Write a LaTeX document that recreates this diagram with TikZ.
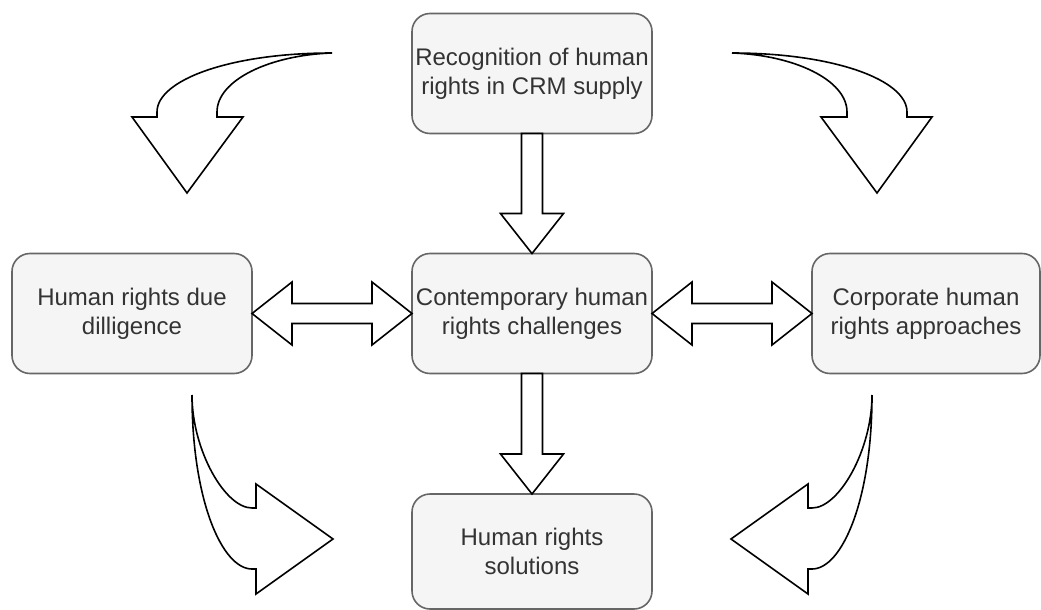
\documentclass[tikz,border=0pt]{standalone}
\usepackage{fontspec}
\setmainfont{Liberation Sans}
\usetikzlibrary{calc}

\definecolor{boxfill}{HTML}{F5F5F5}
\definecolor{boxline}{HTML}{666666}
\definecolor{labeltext}{HTML}{333333}

% straight block arrow pointing down, from the bottom of #1 to the top of #2
\newcommand\blockdown[2]{%
  \draw[blockarrow] ($(#1)+(-10.5,0)$) -- ($(#2)+(-10.5,-40)$) -- ($(#2)+(-31.5,-40)$)
    -- (#2) -- ($(#2)+(31.5,-40)$) -- ($(#2)+(10.5,-40)$) -- ($(#1)+(10.5,0)$) -- cycle;}

% horizontal block arrow with heads at both ends, from #1 (left) to #2 (right)
\newcommand\blockboth[2]{%
  \draw[blockarrow] (#1) -- ($(#1)+(40,-31.5)$) -- ($(#1)+(40,-10)$) -- ($(#2)+(-40,-10)$)
    -- ($(#2)+(-40,-31.5)$) -- (#2) -- ($(#2)+(-40,31.5)$) -- ($(#2)+(-40,10)$)
    -- ($(#1)+(40,10)$) -- ($(#1)+(40,31.5)$) -- cycle;}

\begin{document}
\begin{tikzpicture}[x=1pt, y=-1pt,
  topicbox/.style={draw=boxline, fill=boxfill, rounded corners=18pt, line width=1.6pt,
    minimum width=240pt, minimum height=120pt, inner sep=0pt, outer sep=0pt,
    text=labeltext, align=center, font=\fontsize{24}{28.8}\selectfont},
  blockarrow/.style={draw=black, fill=white, line width=1.6pt, line join=miter}]

\useasboundingbox (0,0) rectangle (1041,610);

% topic boxes
\node[topicbox] (recog) at (532,73.5) {Recognition of human\\rights in CRM supply};
\node[topicbox] (contemp) at (532,313.5) {Contemporary human\\rights challenges};
\node[topicbox] (duedil) at (132,313.5) {Human rights due\\dilligence};
\node[topicbox, minimum width=228pt] (corp) at (926,313.5) {Corporate human\\rights approaches};
\node[topicbox, minimum height=115pt] (solut) at (532,551.5) {Human rights\\solutions};

% straight block arrows
\blockdown{recog.south}{contemp.north}
\blockdown{contemp.south}{solut.north}
\blockboth{duedil.east}{contemp.west}
\blockboth{contemp.east}{corp.west}

% curved block arrows, top left
\draw[blockarrow] (332,53) .. controls (230,53) and (157,80) .. (157,112) -- (157,117)
  -- (132,117) -- (187,193) -- (243,117) -- (217,117) -- (217,112)
  .. controls (217,80) and (270,55) .. (332,53) -- cycle;
% top right
\draw[blockarrow] (732,53) .. controls (834,53) and (907,80) .. (907,112) -- (907,117)
  -- (932,117) -- (877,193) -- (821,117) -- (847,117) -- (847,112)
  .. controls (847,80) and (794,55) .. (732,53) -- cycle;
% bottom left
\draw[blockarrow] (192,395) .. controls (192,450) and (225,508) .. (252,508) -- (256,508)
  -- (256,484) -- (333,539) -- (256,594) -- (256,569) -- (252,569)
  .. controls (222,569) and (192,500) .. (192,395) -- cycle;
% bottom right
\draw[blockarrow] (872,395) .. controls (872,450) and (839,508) .. (812,508) -- (808,508)
  -- (808,484) -- (731,539) -- (808,594) -- (808,569) -- (812,569)
  .. controls (842,569) and (872,500) .. (872,395) -- cycle;
\end{tikzpicture}
\end{document}
